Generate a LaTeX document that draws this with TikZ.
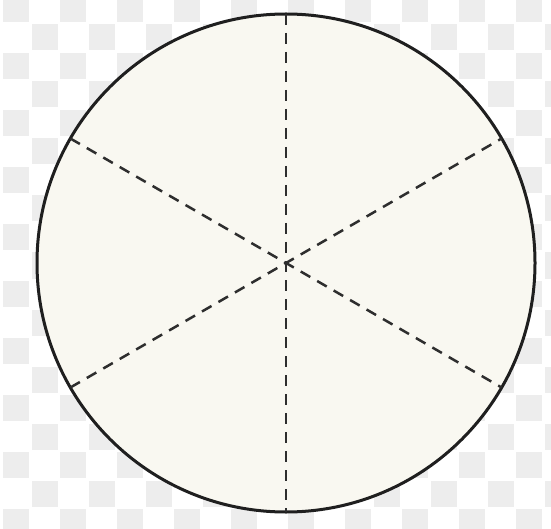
\documentclass[tikz,border=0pt]{standalone}
\usetikzlibrary{calc}
\begin{document}
\begin{tikzpicture}[x=1pt,y=-1pt,
  bgsq/.style={fill=black!7},
  disc/.style={draw=black!88,line width=3pt,fill=cream},
  spoke/.style={draw=black!82,line width=2.5pt,dash pattern=on 11pt off 8pt}]
\definecolor{cream}{HTML}{F9F8F1}
\useasboundingbox (0,0) rectangle (551,529);
\clip (0,0) rectangle (551,529);
\fill[white] (0,0) rectangle (551,529);
\foreach \i in {0,...,20}{
  \foreach \j in {0,...,19}{
    \pgfmathtruncatemacro\k{mod(\i+\j,2)}
    \ifnum\k=0
      \fill[bgsq] ({3+28.5*\i},{-4+28.5*\j}) rectangle +(26,26);
    \fi
  }
}
\coordinate (c) at (286,263);
\node[disc,circle,minimum size=498pt,inner sep=0pt] (circ) at (c) {};
\foreach \a in {90,270,150,330,30,210}{
  \coordinate (p\a) at ($(c)+(\a:249pt)$);
}
\draw[spoke] (p90) -- (p270);
\draw[spoke] (p150) -- (p330);
\draw[spoke] (p210) -- (p30);
\end{tikzpicture}
\end{document}
